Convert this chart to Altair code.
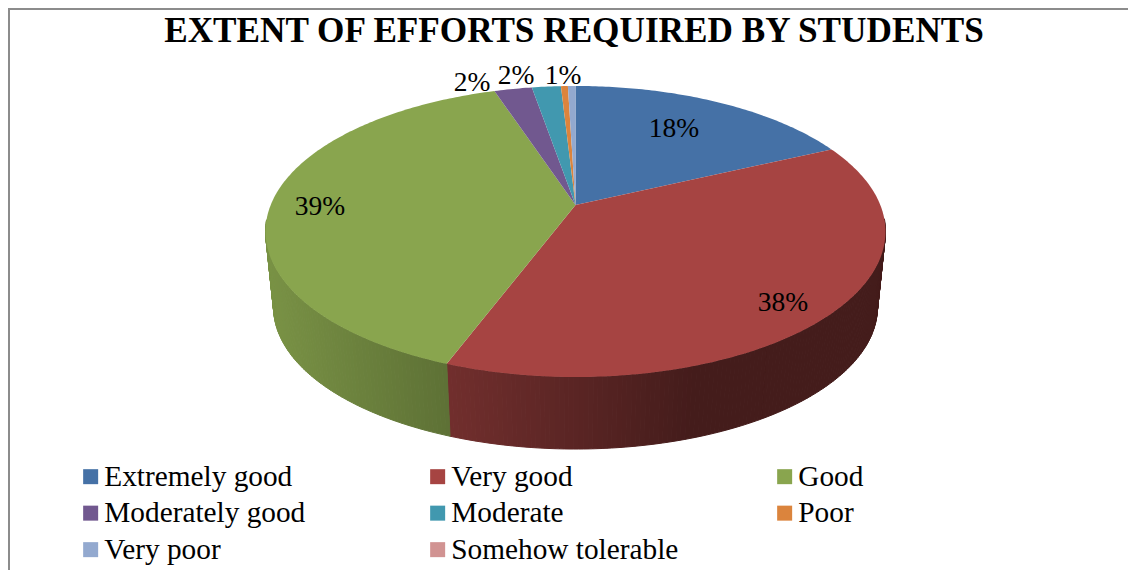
import math
import altair as alt

categories = ["Extremely good", "Very good", "Good", "Moderately good", "Moderate", "Poor", "Very poor", "Somehow tolerable"]
values = [18, 37.7, 39.25, 2.35, 1.8, 0.43, 0.47, 0]
colors = ["#4571a6", "#a64442", "#89a54e", "#71588f", "#4198af", "#db843d", "#93a9cf", "#d19392"]
label_texts = ["18%", "38%", "39%", "2%", "2%", "1%"]
label_x = [666, 775, 312, 464, 508, 555]
label_y = [121, 295, 199, 75, 68, 68]
title_text = "EXTENT OF EFFORTS REQUIRED BY STUDENTS"

FONT = "Liberation Serif"
W, H = 1120, 562
CX, AY = 567.5, 197.0
A, B, K = 304.8, 140.7, 0.182
DROP, SHRINK = 76.5, 0.974


def rim(t, bottom=False):
    s, c = math.sin(math.radians(t)), -math.cos(math.radians(t))
    d = 1 - K * c
    x, y = A * s / d, B * c / d
    if bottom:
        return [CX + SHRINK * x, AY + DROP + SHRINK * y]
    return [CX + x, AY + y]


def shade(hex_color, x):
    f = max(0.41, min(0.9, 0.88 - 0.00111 * (x + 8 - 270)))
    rgb = [int(hex_color[i:i + 2], 16) for i in (1, 3, 5)]
    return "#%02x%02x%02x" % tuple(round(v * f) for v in rgb)


def feature(ring, **props):
    return {"type": "Feature", "properties": props,
            "geometry": {"type": "Polygon", "coordinates": [ring + [ring[0]]]}}


tops, walls = [], []
start = 0.0
for name, value, color in zip(categories, values, colors):
    if value <= 0:
        continue
    end = start + value * 3.6
    n = max(2, int((end - start) / 0.75) + 1)
    angles = [start + (end - start) * i / n for i in range(n + 1)]
    tops.append(feature([[CX, AY]] + [rim(t) for t in angles], name=name))
    for a, b in zip(angles, angles[1:]):
        if 96 < b and a < 264:
            xm = (rim(a)[0] + rim(b)[0]) / 2
            c = shade(color, xm)
            walls.append(feature([rim(a), rim(b), rim(b, True), rim(a, True)], col=c))
    start = end

proj = dict(type="identity", scale=1, translate=[0, 0])

border_left = alt.Chart(alt.Data(values=[{"k": 0}])).mark_rule(color="#8c8c8c", strokeWidth=2).encode(
    x=alt.value(1), y=alt.value(0), y2=alt.value(H))
border_top = alt.Chart(alt.Data(values=[{"k": 0}])).mark_rule(color="#8c8c8c", strokeWidth=2).encode(
    y=alt.value(1), x=alt.value(0), x2=alt.value(W))

wall_layer = alt.Chart(alt.Data(values=walls)).mark_geoshape(strokeWidth=1).encode(
    color=alt.Color("properties.col:N", scale=None, legend=None),
    stroke=alt.Stroke("properties.col:N", scale=None, legend=None),
).project(**proj)

top_layer = alt.Chart(alt.Data(values=tops)).mark_geoshape(strokeWidth=0).encode(
    fill=alt.Fill(
        "properties.name:N",
        scale=alt.Scale(domain=categories, range=colors),
        sort=categories,
        legend=alt.Legend(
            title=None, orient="none", legendX=68, legendY=454, columns=3, gridAlign="all",
            direction="horizontal", columnPadding=91, rowPadding=6.5, symbolType="square", symbolSize=225,
            symbolStrokeWidth=0, labelFont=FONT, labelFontSize=29.3, labelColor="#000000",
            labelOffset={"expr": "-1"}, labelLimit=400, symbolOffset=0, padding=0,
        ),
    )
).project(**proj)

labels = alt.Chart(alt.Data(values=[{"t": t, "x": x, "y": y} for t, x, y in zip(label_texts, label_x, label_y)])).mark_text(
    font=FONT, fontSize=27.5, color="#000000", align="center", baseline="middle"
).encode(longitude="x:Q", latitude="y:Q", text="t:N").project(**proj)

chart = alt.layer(border_left, border_top, wall_layer, top_layer, labels).resolve_scale(
    color="independent", fill="independent", stroke="independent"
).properties(
    width=W, height=H,
    autosize=alt.AutoSizeParams(type="none"),
    padding=0,
    title=alt.TitleParams(title_text, font=FONT, fontSize=35.2, fontWeight="bold", color="#000000",
                          anchor="start", align="center", frame="group", dx=566, dy=42, offset=0),
    background="#ffffff",
).configure_view(stroke=None)

chart.save("out.html", embed_options={"renderer": "svg", "actions": False})
